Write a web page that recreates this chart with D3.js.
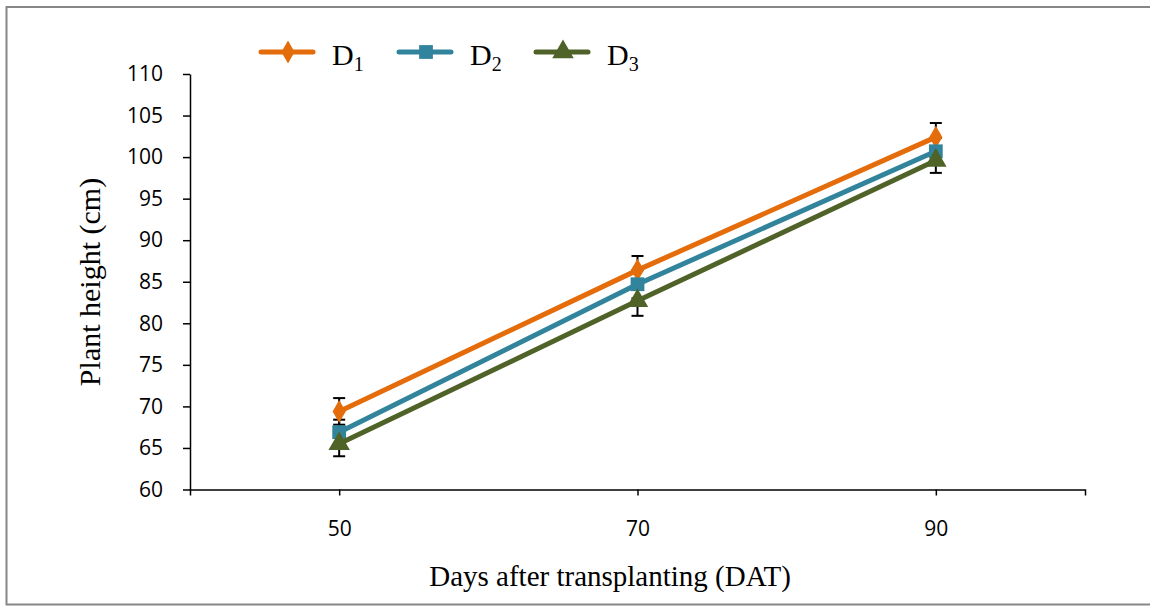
<!DOCTYPE html>
<html>
<head>
<meta charset="utf-8">
<script src="https://cdn.jsdelivr.net/npm/d3@7"></script>
<style>
  html, body { margin: 0; padding: 0; background: #fff; }
  svg { display: block; }
</style>
</head>
<body>
<svg id="chart" width="1150" height="606"></svg>
<script>
// Plant height by days after transplanting
const days = [50, 70, 90];
const seriesNames = ["D1", "D2", "D3"];
const heightD1 = [69.4, 86.4, 102.4];
const heightD2 = [66.9, 84.7, 100.7];
const heightD3 = [65.5, 82.7, 99.6];
const errorD1 = [1.6, 1.7, 1.7];
const errorD2 = [1.5, 1.7, 1.6];
const errorD3 = [1.5, 1.8, 1.5];
const yTicks = [60, 65, 70, 75, 80, 85, 90, 95, 100, 105, 110];
const xTicks = [50, 70, 90];

const colors = ["#E46C0A", "#31849B", "#4F6228"];
const symbols = [d3.symbolDiamond, d3.symbolSquare, d3.symbolTriangle];
const symbolSizes = [150, 190, 200];

const series = [
  { name: seriesNames[0], values: heightD1, errors: errorD1 },
  { name: seriesNames[1], values: heightD2, errors: errorD2 },
  { name: seriesNames[2], values: heightD3, errors: errorD3 }
];

const svg = d3.select("#chart");

// outer frame
svg.append("rect")
  .attr("x", 6.5).attr("y", 7)
  .attr("width", 1160).attr("height", 597.5)
  .attr("fill", "none")
  .attr("stroke", "#878787")
  .attr("stroke-width", 2);

const x = d3.scaleLinear().domain([40, 100]).range([190, 1085]);
const y = d3.scaleLinear().domain([60, 110]).range([489.5, 74]);

const tickFont = "'Open Sans', 'Liberation Sans', sans-serif";
const serif = "'Liberation Serif', 'Times New Roman', serif";

// y axis
const yAxis = svg.append("g")
  .attr("transform", "translate(190,0)")
  .call(d3.axisLeft(y).tickValues(yTicks).tickSize(7).tickSizeOuter(0).tickPadding(20));
yAxis.select(".domain").attr("stroke", "#000").attr("stroke-width", 1.5);
yAxis.selectAll(".tick line").attr("stroke", "#000").attr("stroke-width", 1.5);
yAxis.selectAll(".tick text")
  .attr("font-family", tickFont).attr("font-size", 21).attr("fill", "#000");

// x axis
const xAxis = svg.append("g")
  .attr("transform", "translate(0,489.5)")
  .call(d3.axisBottom(x).tickValues(xTicks).tickSize(6).tickSizeOuter(6).tickPadding(26));
xAxis.select(".domain").attr("stroke", "#000").attr("stroke-width", 1.5);
xAxis.selectAll(".tick line").attr("stroke", "#000").attr("stroke-width", 1.5);
xAxis.selectAll(".tick text")
  .attr("font-family", tickFont).attr("font-size", 21).attr("fill", "#000");

// axis titles
svg.append("text")
  .attr("transform", "translate(100,282) rotate(-90)")
  .attr("text-anchor", "middle")
  .attr("font-family", serif).attr("font-size", 30)
  .text("Plant height (cm)");

svg.append("text")
  .attr("x", 610).attr("y", 586)
  .attr("text-anchor", "middle")
  .attr("font-family", serif).attr("font-size", 29)
  .text("Days after transplanting (DAT)");

const line = d3.line()
  .x((d, i) => x(days[i]))
  .y(d => y(d));

// error bars sit beneath every series line and marker
const errLayer = svg.append("g");
series.forEach(s => {
  s.values.forEach((v, i) => {
    const cx = x(days[i]);
    const top = y(v + s.errors[i]);
    const bot = y(v - s.errors[i]);
    errLayer.append("line").attr("x1", cx).attr("x2", cx).attr("y1", top).attr("y2", bot)
      .attr("stroke", "#000").attr("stroke-width", 2);
    [top, bot].forEach(yy => {
      errLayer.append("line").attr("x1", cx - 6).attr("x2", cx + 6).attr("y1", yy).attr("y2", yy)
        .attr("stroke", "#000").attr("stroke-width", 2);
    });
  });
});

const plot = svg.append("g");
series.forEach((s, k) => {
  const g = plot.append("g");
  g.append("path")
    .datum(s.values)
    .attr("d", line)
    .attr("fill", "none")
    .attr("stroke", colors[k])
    .attr("stroke-width", 5)
    .attr("stroke-linejoin", "round");

  g.selectAll("path.marker")
    .data(s.values)
    .join("path")
    .attr("class", "marker")
    .attr("transform", (d, i) => `translate(${x(days[i])},${y(d)})`)
    .attr("d", d3.symbol().type(symbols[k]).size(symbolSizes[k]))
    .attr("fill", colors[k]);
});

// legend
const legendX = [261, 399, 536];
const legend = svg.append("g");
series.forEach((s, k) => {
  const lx = legendX[k];
  const ly = 52;
  legend.append("line")
    .attr("x1", lx).attr("x2", lx + 52).attr("y1", ly).attr("y2", ly)
    .attr("stroke", colors[k]).attr("stroke-width", 5).attr("stroke-linecap", "round");
  legend.append("path")
    .attr("transform", `translate(${lx + 27},${ly})`)
    .attr("d", d3.symbol().type(symbols[k]).size(symbolSizes[k]))
    .attr("fill", colors[k]);
  const t = legend.append("text")
    .attr("x", lx + 71).attr("y", ly + 13)
    .attr("font-family", serif).attr("font-size", 30);
  t.append("tspan").text(s.name.charAt(0));
  t.append("tspan").attr("dy", 6).attr("font-size", 20).text(s.name.slice(1));
});
</script>
</body>
</html>
